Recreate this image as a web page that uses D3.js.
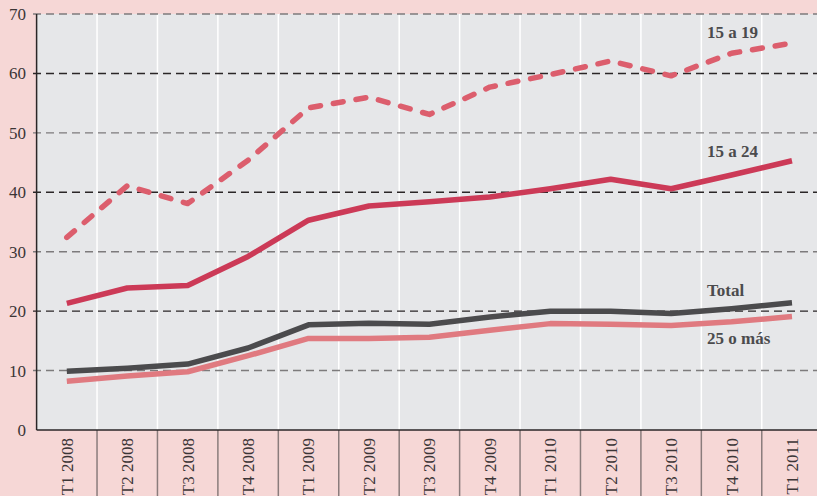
<!DOCTYPE html>
<html>
<head>
<meta charset="utf-8">
<script src="https://cdn.jsdelivr.net/npm/d3@7"></script>
<style>
  body { margin: 0; background: #f6d7d6; }
  svg { display: block; }
  text { font-family: "Liberation Serif", "DejaVu Serif", serif; }
</style>
</head>
<body>
<svg id="chart" width="817" height="496"></svg>
<script>
// quarters on the x axis
var quarters = ["T1 2008", "T2 2008", "T3 2008", "T4 2008",
                "T1 2009", "T2 2009", "T3 2009", "T4 2009",
                "T1 2010", "T2 2010", "T3 2010", "T4 2010", "T1 2011"];

// series values (%)
var age15to19 = [32.4, 41.1, 38.1, 45.4, 54.2, 56.0, 53.1, 57.7, 59.8, 62.1, 59.6, 63.4, 65.1];
var age15to24 = [21.3, 23.9, 24.3, 29.2, 35.3, 37.7, 38.4, 39.2, 40.6, 42.2, 40.6, 42.9, 45.3];
var total     = [9.9, 10.4, 11.1, 13.8, 17.7, 17.95, 17.8, 19.0, 20.0, 20.0, 19.6, 20.4, 21.4];
var age25plus = [8.2, 9.1, 9.8, 12.5, 15.4, 15.4, 15.6, 16.8, 17.9, 17.8, 17.6, 18.2, 19.1];

var yTicks = [0, 10, 20, 30, 40, 50, 60, 70];

var series = [
    {name: "15 a 19", values: age15to19, color: "#dc5e6d", dash: "10,13", labelY: 38},
    {name: "15 a 24", values: age15to24, color: "#cc3a57", dash: null, labelY: 157},
    {name: "25 o más", values: age25plus, color: "#e07a80", dash: null, labelY: 344},
    {name: "Total", values: total, color: "#4b4b4d", dash: null, labelY: 296}
];

var svg = d3.select("#chart");
var plot = {left: 36.6, top: 14, bottom: 430, right: 822.2};

var x = d3.scaleBand().domain(quarters).range([plot.left, plot.right]).padding(0);
var y = d3.scaleLinear().domain([0, 70]).range([plot.bottom, plot.top]);

// grey plot area
svg.append("rect")
    .attr("x", plot.left).attr("y", plot.top)
    .attr("width", plot.right - plot.left).attr("height", plot.bottom - plot.top)
    .attr("fill", "#e6e7e9");

// white column separators inside the plot, grey ones below it
quarters.slice(1).forEach(function (q) {
    svg.append("line")
        .attr("x1", x(q)).attr("x2", x(q))
        .attr("y1", plot.top).attr("y2", plot.bottom)
        .attr("stroke", "#ffffff").attr("stroke-width", 1.5);
    svg.append("line")
        .attr("x1", x(q)).attr("x2", x(q))
        .attr("y1", plot.bottom).attr("y2", 496)
        .attr("stroke", "#8a7c7c").attr("stroke-width", 1.5);
});

// dashed gridlines, alternate shade
yTicks.slice(1).forEach(function (t) {
    svg.append("line")
        .attr("x1", 33).attr("x2", 817)
        .attr("y1", y(t)).attr("y2", y(t))
        .attr("stroke", (t / 10) % 2 === 1 ? "#7d7b7c" : "#2a2627")
        .attr("stroke-width", 1.4)
        .attr("stroke-dasharray", "8,5");
});

// y axis labels
svg.append("g").selectAll("text")
    .data(yTicks)
    .enter().append("text")
    .attr("x", 26)
    .attr("y", function (d) { return y(d); })
    .attr("dy", "0.35em")
    .attr("text-anchor", "end")
    .attr("font-size", "17px")
    .attr("fill", "#3b3536")
    .text(function (d) { return d; });

// axes lines
svg.append("line")
    .attr("x1", plot.left).attr("x2", plot.left).attr("y1", plot.top).attr("y2", plot.bottom)
    .attr("stroke", "#2a2627").attr("stroke-width", 1.5);
svg.append("line")
    .attr("x1", plot.left).attr("x2", 817).attr("y1", plot.bottom).attr("y2", plot.bottom)
    .attr("stroke", "#2a2627").attr("stroke-width", 1.5);

// rotated quarter labels
svg.append("g").selectAll("text")
    .data(quarters)
    .enter().append("text")
    .attr("transform", function (d) {
        return "translate(" + (x(d) + x.bandwidth() / 2) + "," + 438 + ") rotate(-90)";
    })
    .attr("dy", "0.35em")
    .attr("text-anchor", "end")
    .attr("font-size", "17px")
    .attr("fill", "#3b3536")
    .text(function (d) { return d; });

// lines
var line = d3.line()
    .x(function (d, i) { return x(quarters[i]) + x.bandwidth() / 2; })
    .y(function (d) { return y(d); });

series.forEach(function (s) {
    svg.append("path")
        .datum(s.values)
        .attr("d", line)
        .attr("fill", "none")
        .attr("stroke", s.color)
        .attr("stroke-width", 5.5)
        .attr("stroke-linejoin", "round")
        .attr("stroke-linecap", s.dash ? "round" : "butt")
        .attr("stroke-dasharray", s.dash);
});

// series labels
series.forEach(function (s) {
    svg.append("text")
        .attr("x", 707)
        .attr("y", s.labelY)
        .attr("font-size", "17px")
        .attr("font-weight", "bold")
        .attr("fill", "#4b4b4d")
        .text(s.name);
});
</script>
</body>
</html>
